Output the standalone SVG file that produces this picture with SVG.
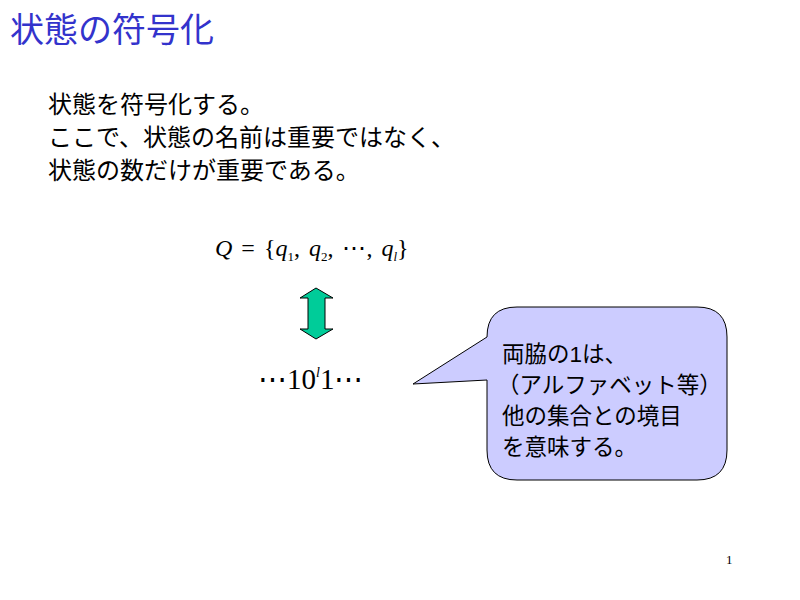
<svg xmlns="http://www.w3.org/2000/svg" width="800" height="600" viewBox="0 0 800 600">
<style>
.jp{font-family:"Liberation Sans","Noto Sans CJK JP",sans-serif;fill:#000}
.m{font-family:"Liberation Serif",serif;fill:#000}
</style>
<rect width="800" height="600" fill="#fff"/>
<text x="10" y="42" class="jp" style="fill:#3333cc;font-size:34px">状態の符号化</text>
<g id="body">
<text x="48" y="113" class="jp" font-size="24">状態を符号化する。</text>
<text x="48" y="146" class="jp" font-size="24">ここで、状態の名前は重要ではなく、</text>
<text x="48" y="179" class="jp" font-size="24">状態の数だけが重要である。</text>
</g>
<g id="formula" font-size="24">
<text x="215" y="256" class="m" word-spacing="3"><tspan font-style="italic">Q</tspan> = {<tspan font-style="italic">q</tspan><tspan font-size="13" dy="5">1</tspan><tspan dy="-5">, </tspan><tspan font-style="italic">q</tspan><tspan font-size="13" dy="5">2</tspan><tspan dy="-5">, ⋯, </tspan><tspan font-style="italic">q</tspan><tspan font-size="13" dy="5" font-style="italic">l</tspan><tspan dy="-5">}</tspan></text>
</g>
<g id="arrow">
<polygon points="316,288 333,298 325,298 325,329 333,329 316,339 300,329 308,329 308,298 300,298" fill="#00cc99" stroke="#000" stroke-width="1"/>
</g>
<g id="string">
<text x="258" y="389" class="m" font-size="29">⋯10<tspan font-size="14" dy="-12" font-style="italic">l</tspan><tspan dy="12">1⋯</tspan></text>
</g>
<g id="callout">
<path d="M517,307 H697 Q727,307 727,337 V450 Q727,480 697,480 H517 Q487,480 487,450 V380 L413,384 L487,337 Q487,307 517,307 Z" fill="#ccccff" stroke="#000" stroke-width="1"/>
<text x="502" y="362" class="jp" font-size="22.5">両脇の1は、</text>
<text x="497" y="393" class="jp" font-size="22.5">（アルファベット等）</text>
<text x="502" y="424" class="jp" font-size="22.5">他の集合との境目</text>
<text x="502" y="455" class="jp" font-size="22.5">を意味する。</text>
</g>
<text x="726" y="564" class="m" font-size="13">1</text>
</svg>
